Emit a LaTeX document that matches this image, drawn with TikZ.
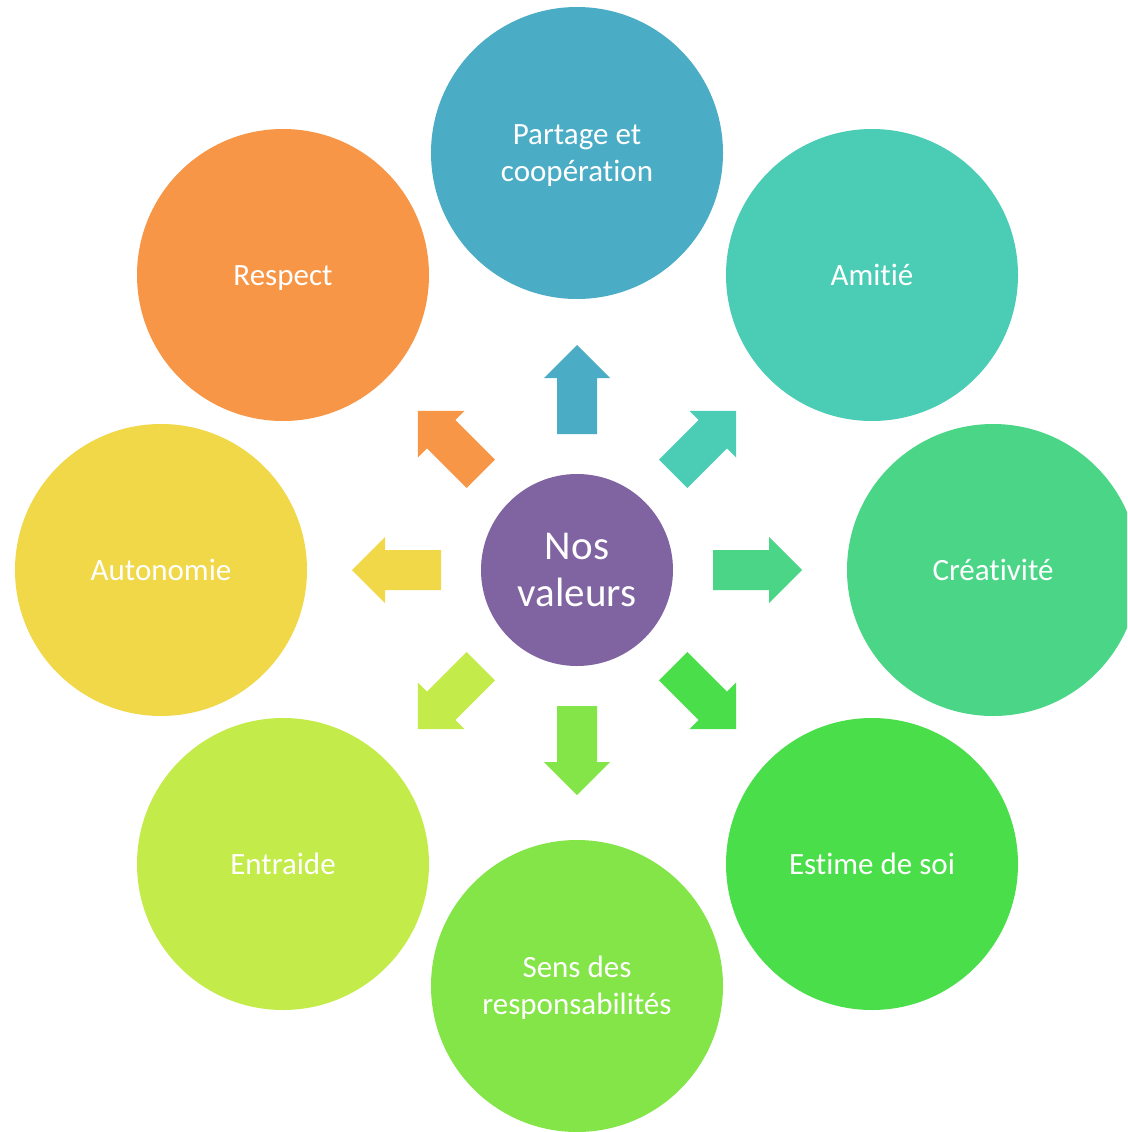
\documentclass[tikz,border=0pt]{standalone}
\usepackage{fontspec}
\setmainfont[Ligatures=CommonOff]{Carlito}
\definecolor{cCenter}{HTML}{8064A2}
\definecolor{cPartage}{HTML}{4BACC6}
\definecolor{cAmitie}{HTML}{4BCDB5}
\definecolor{cCreat}{HTML}{4AD686}
\definecolor{cEstime}{HTML}{4ADF4A}
\definecolor{cSens}{HTML}{84E548}
\definecolor{cEntraide}{HTML}{C3EB49}
\definecolor{cAuto}{HTML}{F0D848}
\definecolor{cRespect}{HTML}{F79646}
\tikzset{
  bubble/.style={circle, minimum size=292pt, inner sep=0pt, draw=none},
  hub/.style={circle, minimum size=192pt, inner sep=0pt, draw=none, fill=cCenter},
  lbl/.style={anchor=base, inner sep=0pt, text=white, font=\fontsize{31}{37}\selectfont},
  hublbl/.style={anchor=base, inner sep=0pt, text=white, font=\fontsize{41}{47}\selectfont},
}
\newcommand{\blockarrow}[2]{%
  \fill[#2, shift={(c.center)}, rotate=#1]
    (136,-20) -- (192,-20) -- (192,-33) -- (225,0) -- (192,33) -- (192,20) -- (136,20) -- cycle;}
\begin{document}
\begin{tikzpicture}[x=1pt, y=-1pt]
\useasboundingbox (0,0) rectangle (1127,1132);
\clip (0,0) rectangle (1127,1132);
% hub
\node[hub] (c) at (577,570) {};
\node[hublbl] (cT) at (577,559) {\begin{tabular}[t]{@{}c@{}}Nos\\valeurs\end{tabular}};
% outer bubbles
\node[bubble, fill=cPartage]  (partage)  at (577,153) {};
\node[bubble, fill=cAmitie]   (amitie)   at (872,275) {};
\node[bubble, fill=cCreat]    (creat)    at (993,570) {};
\node[bubble, fill=cEstime]   (estime)   at (872,864) {};
\node[bubble, fill=cSens]     (sens)     at (577,986) {};
\node[bubble, fill=cEntraide] (entraide) at (283,864) {};
\node[bubble, fill=cAuto]     (auto)     at (161,570) {};
\node[bubble, fill=cRespect]  (respect)  at (283,275) {};
% labels
\node[lbl] (partageT) at ([yshift=9pt]partage.center) {\begin{tabular}[t]{@{}c@{}}Partage et\\coopération\end{tabular}};
\node[lbl] (amitieT) at ([yshift=-10pt]amitie.center) {Amitié};
\node[lbl] (creatT) at ([yshift=-10pt]creat.center) {Créativité};
\node[lbl] (estimeT) at ([yshift=-10pt]estime.center) {Estime de soi};
\node[lbl] (sensT) at ([yshift=9pt]sens.center) {\begin{tabular}[t]{@{}c@{}}Sens des\\responsabilités\end{tabular}};
\node[lbl] (entraideT) at ([yshift=-10pt]entraide.center) {Entraide};
\node[lbl] (autoT) at ([yshift=-10pt]auto.center) {Autonomie};
\node[lbl] (respectT) at ([yshift=-10pt]respect.center) {Respect};
% block arrows
\blockarrow{90}{cPartage}
\blockarrow{45}{cAmitie}
\blockarrow{0}{cCreat}
\blockarrow{-45}{cEstime}
\blockarrow{-90}{cSens}
\blockarrow{-135}{cEntraide}
\blockarrow{180}{cAuto}
\blockarrow{135}{cRespect}
\end{tikzpicture}
\end{document}
